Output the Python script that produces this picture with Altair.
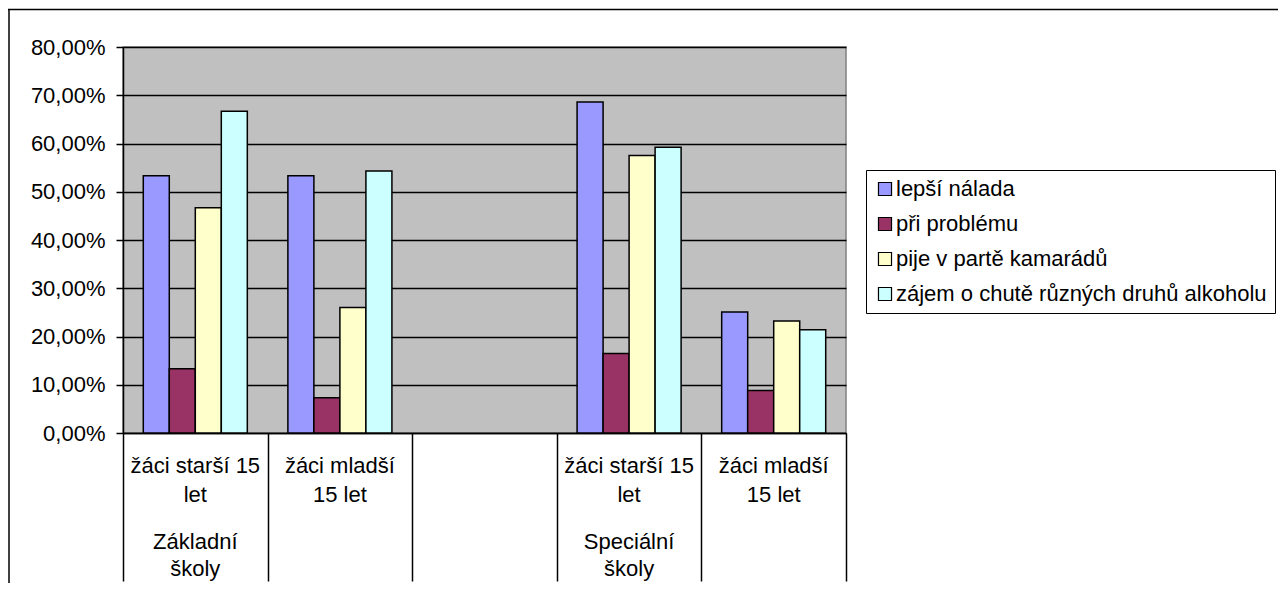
import altair as alt
import pandas as pd

# ---- data ----
categories = ["zs_starsi", "zs_mladsi", "mezera", "ss_starsi", "ss_mladsi"]
category_labels = ["žáci starší 15\nlet", "žáci mladší\n15 let", "", "žáci starší 15\nlet", "žáci mladší\n15 let"]
school_categories = ["zs_starsi", "ss_starsi"]
school_labels = ["Základní\nškoly", "Speciální\nškoly"]

series = ["lepší nálada", "při problému", "pije v partě kamarádů",
          "zájem o chutě různých druhů alkoholu"]
colors = ["#9999FF", "#993366", "#FFFFCC", "#CCFFFF"]

lepsi_nalada = [0.533, 0.533, None, 0.686, 0.251]
pri_problemu = [0.133, 0.073, None, 0.165, 0.088]
pije_v_parte = [0.467, 0.260, None, 0.575, 0.232]
zajem_o_chute = [0.667, 0.543, None, 0.592, 0.214]

y_ticks = [0.0, 0.1, 0.2, 0.3, 0.4, 0.5, 0.6, 0.7, 0.8]

# ---- tables ----
rows = []
for name, vals in zip(series, [lepsi_nalada, pri_problemu, pije_v_parte, zajem_o_chute]):
    for cat, v in zip(categories, vals):
        if v is not None:
            rows.append({"kategorie": cat, "serie": name, "hodnota": v})
bar_df = pd.DataFrame(rows)
cat_df = pd.DataFrame({"kategorie": categories, "popis": category_labels})
school_df = pd.DataFrame({"kategorie": school_categories, "popis": school_labels})

W, H = 723, 386
FONT = "Liberation Sans"
FS = 22

x_scale = alt.Scale(domain=categories, paddingInner=0, paddingOuter=0)

bars = alt.Chart(bar_df).mark_bar(stroke="black", strokeWidth=1.5).encode(
    x=alt.X("kategorie:N", scale=x_scale, sort=categories,
            axis=alt.Axis(title=None, labels=False, ticks=True, tickBand="extent",
                          tickSize=148, tickColor="black", tickWidth=1.5,
                          domainColor="black", domainWidth=1.5, grid=False)),
    xOffset=alt.XOffset("serie:N", sort=series,
                        scale=alt.Scale(domain=series, paddingInner=0, paddingOuter=0.78)),
    y=alt.Y("hodnota:Q", scale=alt.Scale(domain=[0, 0.8], nice=False),
            axis=alt.Axis(values=y_ticks, title=None,
                          labelExpr="replace(format(datum.value, '.2%'), '.', ',')",
                          tickSize=7, tickWidth=1.5, labelPadding=11, tickColor="black",
                          domainColor="black", domainWidth=1.5, grid=True,
                          gridColor="black", gridWidth=1.5, labelFontSize=FS,
                          labelColor="black", labelFont=FONT)),
    color=alt.Color("serie:N", scale=alt.Scale(domain=series, range=colors), title=None,
                    legend=alt.Legend(orient="none", legendX=743, legendY=123,
                                      symbolType="square", symbolSize=170,
                                      symbolStrokeColor="black", symbolStrokeWidth=1.2,
                                      labelFontSize=FS, labelFont=FONT, labelColor="black",
                                      labelOffset=0, rowPadding=13, labelLimit=600,
                                      padding=8, strokeColor="black", fillColor="white")),
)

cat_text = alt.Chart(cat_df).mark_text(
    align="center", baseline="alphabetic", fontSize=FS, font=FONT,
    lineBreak="\n", lineHeight=29, color="black"
).encode(
    x=alt.X("kategorie:N", scale=x_scale, sort=categories),
    y=alt.value(H + 40),
    text="popis:N",
)

school_text = alt.Chart(school_df).mark_text(
    align="center", baseline="alphabetic", fontSize=FS, font=FONT,
    lineBreak="\n", lineHeight=27, color="black"
).encode(
    x=alt.X("kategorie:N", scale=x_scale, sort=categories),
    y=alt.value(H + 116),
    text="popis:N",
)

one = alt.Data(values=[{"k": 1}])
frame_left = alt.Chart(one).mark_rule(color="black", strokeWidth=1.5).encode(
    x=alt.value(-114), y=alt.value(-38), y2=alt.value(H + 160))
frame_top = alt.Chart(one).mark_rule(color="black", strokeWidth=1.5).encode(
    x=alt.value(-115), x2=alt.value(W + 450), y=alt.value(-37.5))

chart = alt.layer(bars, cat_text, school_text, frame_left, frame_top).properties(
    width=W, height=H,
    autosize=alt.AutoSizeParams(type="none"),
    padding={"left": 115, "top": 39, "right": 432, "bottom": 150},
    background="white",
).configure(font=FONT).configure_view(
    fill="#C0C0C0", stroke="#808080", strokeWidth=1.5
)

chart.save("out.html", embed_options={"renderer": "svg", "actions": False})
